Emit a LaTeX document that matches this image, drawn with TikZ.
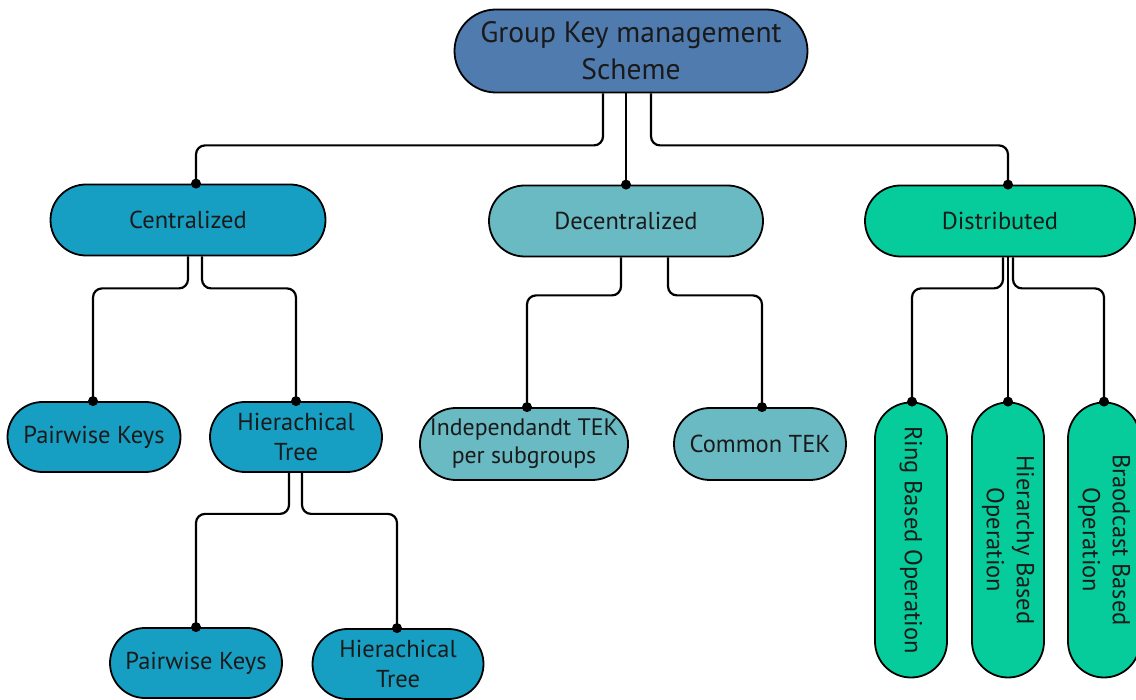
\documentclass[tikz,border=0pt]{standalone}
\usepackage{fontspec}
\setmainfont{PT Sans}
\usetikzlibrary{shapes.misc,calc}

\definecolor{rootblue}{HTML}{4F7BAE}
\definecolor{cenblue}{HTML}{179FC3}
\definecolor{decteal}{HTML}{6ABAC4}
\definecolor{disgreen}{HTML}{05CC9A}
\definecolor{inkdark}{HTML}{1A1A1A}

\tikzset{
  pill/.style={rounded rectangle, draw=black, line width=1.8pt, text=inkdark,
    align=center, inner sep=0pt, font=\fontsize{24.5}{30}\selectfont},
  cenpill/.style={pill, fill=cenblue},
  decpill/.style={pill, fill=decteal},
  dispill/.style={pill, fill=disgreen},
  link/.style={draw=black, line width=2.2pt, rounded corners=9pt},
  jointdot/.style={fill=black}
}

\begin{document}
\begin{tikzpicture}[x=1pt,y=-1pt]
\useasboundingbox (0,0) rectangle (1136,700);

% level 0
\node[pill, fill=rootblue, minimum width=353pt, minimum height=83pt,
      font=\fontsize{29.5}{37}\selectfont] (root) at (631,51)
      {Group Key management\\Scheme};

% level 1
\node[cenpill, minimum width=275pt, minimum height=71pt] (cen) at (188,220) {Centralized};
\node[decpill, minimum width=274pt, minimum height=71pt] (dec) at (626,221) {Decentralized};
\node[dispill, minimum width=270pt, minimum height=71pt] (dis) at (1000,221) {Distributed};

% centralized subtree
\node[cenpill, minimum width=173pt, minimum height=70pt] (pk1) at (94,437) {Pairwise Keys};
\node[cenpill, minimum width=172pt, minimum height=70pt] (ht1) at (296,437) {Hierachical\\Tree};
\node[cenpill, minimum width=172pt, minimum height=70pt] (pk2) at (196,663) {Pairwise Keys};
\node[cenpill, minimum width=171pt, minimum height=70pt] (ht2) at (398,664) {Hierachical\\Tree};

% decentralized subtree
\node[decpill, minimum width=208pt, minimum height=72pt,
      font=\fontsize{23.8}{28}\selectfont] (itek) at (524,444) {Independandt TEK\\per subgroups};
\node[decpill, minimum width=172pt, minimum height=72pt] (ctek) at (760,444) {Common TEK};

% distributed subtree (vertical pills)
\node[dispill, rotate=-90, minimum width=275pt, minimum height=72pt] (ring) at (911,540) {Ring Based Operation};
\node[dispill, rotate=-90, minimum width=275pt, minimum height=72pt] (hier) at (1008,540) {Hierarchy Based\\Operation};
\node[dispill, rotate=-90, minimum width=275pt, minimum height=72pt] (brd) at (1104,540) {Braodcast Based\\Operation};

% connectors from the root
\draw[link] ([xshift=-28pt]root.south) -- ++(0,52) -| ([xshift=8pt]cen.north);
\draw[link] ([xshift=-5pt]root.south) -- (dec.north);
\draw[link] ([xshift=20pt]root.south) -- ++(0,52) -| ([xshift=8pt]dis.north);

% centralized connectors
\draw[link] ([xshift=0pt]cen.south) -- ++(0,32) -| ([xshift=-1pt]pk1.north);
\draw[link] ([xshift=14pt]cen.south) -- ++(0,32) -| (ht1.north);
\draw[link] ([xshift=-7pt]ht1.south) -- ++(0,41) -| (pk2.north);
\draw[link] ([xshift=6pt]ht1.south) -- ++(0,41) -| ([xshift=-1pt]ht2.north);

% decentralized connectors
\draw[link] ([xshift=-5pt]dec.south) -- ++(0,38) -| ([xshift=3pt]itek.north);
\draw[link] ([xshift=42pt]dec.south) -- ++(0,38) -| ([xshift=2pt]ctek.north);

% distributed connectors
\draw[link] ([xshift=3pt]dis.south) -- ++(0,31) -| ([xshift=1pt]ring.west);
\draw[link] ([xshift=8pt]dis.south) -- (hier.west);
\draw[link] ([xshift=13pt]dis.south) -- ++(0,31) -| (brd.west);

% joint dots on the receiving ends
\fill[jointdot] ([xshift=8pt]cen.north) circle (5pt);
\fill[jointdot] (dec.north) circle (5pt);
\fill[jointdot] ([xshift=8pt]dis.north) circle (5pt);
\fill[jointdot] ([xshift=-1pt]pk1.north) circle (5pt);
\fill[jointdot] (ht1.north) circle (5pt);
\fill[jointdot] (pk2.north) circle (5pt);
\fill[jointdot] ([xshift=-1pt]ht2.north) circle (5pt);
\fill[jointdot] ([xshift=3pt]itek.north) circle (5pt);
\fill[jointdot] ([xshift=2pt]ctek.north) circle (5pt);
\fill[jointdot] ([xshift=1pt]ring.west) circle (5pt);
\fill[jointdot] (hier.west) circle (5pt);
\fill[jointdot] (brd.west) circle (5pt);
\end{tikzpicture}
\end{document}
